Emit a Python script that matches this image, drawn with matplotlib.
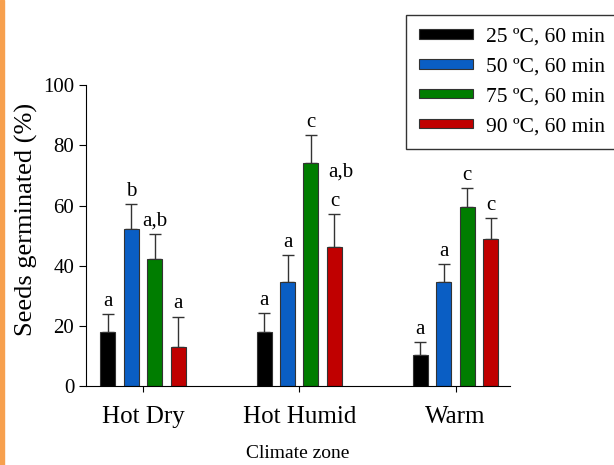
import numpy as np
import matplotlib
matplotlib.use('Agg')
import matplotlib.pyplot as plt
from matplotlib.patches import Rectangle

# Data
zones = ['Hot Dry', 'Hot Humid', 'Warm']
series = ['25 \u00baC, 60 min', '50 \u00baC, 60 min', '75 \u00baC, 60 min', '90 \u00baC, 60 min']
means = [
    [18.2, 18.1, 10.5],   # 25 C
    [52.2, 34.8, 34.7],   # 50 C
    [42.3, 74.2, 59.7],   # 75 C
    [13.2, 46.2, 48.9],   # 90 C
]
errs = [
    [5.8, 6.2, 4.1],
    [8.3, 8.9, 5.9],
    [8.4, 9.1, 6.0],
    [10.0, 11.1, 7.0],
]
letters = [
    ['a', 'a', 'a'],
    ['b', 'a', 'a'],
    ['a,b', 'c', 'c'],
    ['a', 'c', 'c'],
]
colors = ['#000000', '#0A5EC4', '#007D00', '#C00000']

plt.rcParams['font.family'] = ['Liberation Serif', 'DejaVu Serif']

fig = plt.figure(figsize=(6.14, 4.65), dpi=100)
ax = fig.add_axes([0.140, 0.169, 0.691, 0.648])

# orange strip at left edge
fig.patches.append(Rectangle((0, 0), 0.006, 1, transform=fig.transFigure,
                             color='#F7A04E', zorder=0))

x = np.arange(len(zones))
step = 0.15
width = 0.096
for i in range(len(series)):
    pos = x + (i - 1.5) * step
    ax.bar(pos, means[i], width, color=colors[i], edgecolor='#333333',
           linewidth=0.8, label=series[i], zorder=2)
    ax.errorbar(pos, means[i], yerr=[np.zeros(3), errs[i]], fmt='none',
                ecolor='#333333', elinewidth=1.0, capsize=4, capthick=1.0, zorder=1)
    for j in range(len(zones)):
        ax.text(pos[j], means[i][j] + errs[i][j] + 1.0, letters[i][j],
                ha='center', va='bottom', fontsize=15, clip_on=False)

# the extra "a,b" next to the Hot Humid 75 C bar
ax.text(1 + 0.5 * step + 0.19, 71.0, 'a,b', ha='center', va='center', fontsize=15)

ax.set_xlim(-0.365, 2.35)
ax.set_ylim(0, 100)
ax.set_xticks(x)
ax.set_xticklabels(zones, fontsize=18)
ax.set_yticks([0, 20, 40, 60, 80, 100])
ax.tick_params(axis='y', labelsize=15, direction='out', length=5)
ax.tick_params(axis='x', direction='out', length=4, pad=10)
ax.spines['top'].set_visible(False)
ax.spines['right'].set_visible(False)
ax.set_ylabel('Seeds germinated (%)', fontsize=19)
ax.yaxis.set_label_coords(-0.113, 0.553)
ax.set_xlabel('Climate zone', fontsize=14, labelpad=12)

leg = fig.legend(loc='upper left', bbox_to_anchor=(0.661, 0.968), fontsize=15.5,
                 frameon=True, fancybox=False, edgecolor='black',
                 handlelength=2.5, handleheight=0.3, handletextpad=0.6,
                 labelspacing=0.5, borderpad=0.6, borderaxespad=0)
leg.get_frame().set_linewidth(1.0)

plt.savefig('out.png', dpi=100)
